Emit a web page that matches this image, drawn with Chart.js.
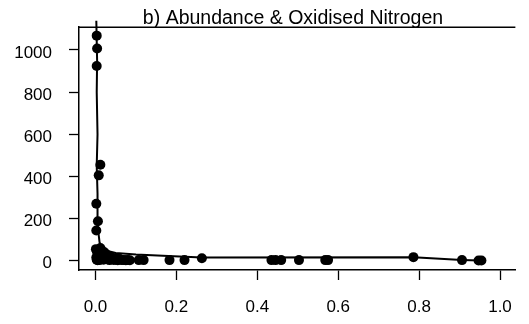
<!DOCTYPE html>
<html>
<head>
<meta charset="utf-8">
<script src="https://cdn.jsdelivr.net/npm/chart.js@4/dist/chart.umd.min.js"></script>
<style>
  html, body { margin: 0; padding: 0; background: #fff; }
  #wrap { width: 529px; height: 324px; }
</style>
</head>
<body>
<div id="wrap"><canvas id="abundanceChart"></canvas></div>
<script>
// observed points: oxidised nitrogen (x) vs abundance (y)
var pointX = [0.003, 0.004, 0.003, 0.012, 0.008, 0.002, 0.006, 0.002,
    0.001, 0.004, 0.006, 0.008, 0.010, 0.012, 0.015, 0.018, 0.020, 0.002,
    0.003, 0.005, 0.010, 0.015, 0.020, 0.025, 0.030, 0.035, 0.040, 0.045,
    0.050, 0.055, 0.060, 0.065, 0.070, 0.075, 0.080, 0.085, 0.025, 0.030,
    0.035, 0.040, 0.014, 0.022, 0.028, 0.045, 0.052, 0.060, 0.008, 0.016,
    0.107, 0.119, 0.183, 0.220, 0.263, 0.435, 0.445, 0.459,
    0.503, 0.568, 0.575, 0.786, 0.906, 0.947, 0.954];
var pointY = [1068, 1007, 924, 455, 405, 270, 187, 143,
    55, 40, 30, 20, 12, 60, 50, 35, 25, 15,
    5, 2, 3, 8, 5, 10, 6, 3, 8, 4,
    5, 2, 6, 3, 4, 2, 3, 2, 30, 22,
    18, 15, 42, 40, 28, 12, 10, 8, 45, 20,
    3, 3, 3, 3, 12, 3, 3, 3,
    3, 3, 3, 17, 3, 1, 1];

// fitted curve
var fitX = [0.002, 0.004, 0.003, 0.005, 0.003, 0.005, 0.004, 0.006, 0.008, 0.010, 0.015, 0.020, 0.030, 0.050, 0.100, 0.180, 0.263, 0.786, 0.906, 0.950];
var fitY = [1139, 950, 800, 600, 450, 320, 220, 160, 120, 88, 66, 55, 46, 37, 29, 22, 15, 17, 4, 1];

var xTicks = [0, 0.2, 0.4, 0.6, 0.8, 1.0];
var yTicks = [0, 200, 400, 600, 800, 1000];
var titleText = "b) Abundance & Oxidised Nitrogen";

var pts = pointX.map(function (x, i) { return { x: x, y: pointY[i] }; });
var fit = fitX.map(function (x, i) { return { x: x, y: fitY[i] }; });

Chart.defaults.font.family = "'Liberation Sans', Arial, sans-serif";
Chart.defaults.font.size = 17;
Chart.defaults.color = '#000';

// box top line + title inside plot
var boxPlugin = {
    id: 'boxTitle',
    afterDraw: function (chart) {
        var a = chart.chartArea, c = chart.ctx;
        c.save();
        c.strokeStyle = '#000';
        c.lineWidth = 1.5;
        c.beginPath();
        c.moveTo(a.left, a.top);
        c.lineTo(a.right, a.top);
        c.stroke();
        c.fillStyle = '#000';
        c.font = "19.5px 'Liberation Sans', Arial, sans-serif";
        c.textAlign = 'center';
        c.textBaseline = 'middle';
        c.fillText(titleText, 293, 19);
        c.restore();
    }
};

new Chart(document.getElementById('abundanceChart'), {
    type: 'scatter',
    data: {
        datasets: [
            {
                data: pts,
                backgroundColor: '#000',
                borderWidth: 0,
                pointRadius: 5,
                pointHoverRadius: 5
            },
            {
                type: 'line',
                data: fit,
                borderColor: '#000',
                borderWidth: 2,
                pointRadius: 0,
                tension: 0,
                fill: false,
                clip: false
            }
        ]
    },
    options: {
        responsive: true,
        maintainAspectRatio: false,
        animation: false,
        layout: { padding: { top: 7, right: 0, left: 0, bottom: 0 } },
        plugins: {
            legend: { display: false },
            tooltip: { enabled: false }
        },
        scales: {
            x: {
                type: 'linear',
                min: -0.0408,
                max: 1.038,
                afterFit: function (s) { s.height = 54; },
                afterBuildTicks: function (s) {
                    s.ticks = xTicks.map(function (v) { return { value: v }; });
                },
                ticks: {
                    padding: 17,
                    callback: function (v) { return v.toFixed(1); }
                },
                grid: { drawOnChartArea: false, tickLength: 10, tickWidth: 1.3, color: '#000' },
                border: { display: true, color: '#000', width: 1.5 }
            },
            y: {
                min: -44,
                max: 1108,
                afterFit: function (s) { s.width = 79; },
                afterBuildTicks: function (s) {
                    s.ticks = yTicks.map(function (v) { return { value: v }; });
                },
                ticks: {
                    padding: 17,
                    labelOffset: 3,
                    callback: function (v) { return String(v); }
                },
                grid: { drawOnChartArea: false, tickLength: 10, tickWidth: 1.3, color: '#000' },
                border: { display: true, color: '#000', width: 1.5 }
            }
        }
    },
    plugins: [boxPlugin]
});
</script>
</body>
</html>
